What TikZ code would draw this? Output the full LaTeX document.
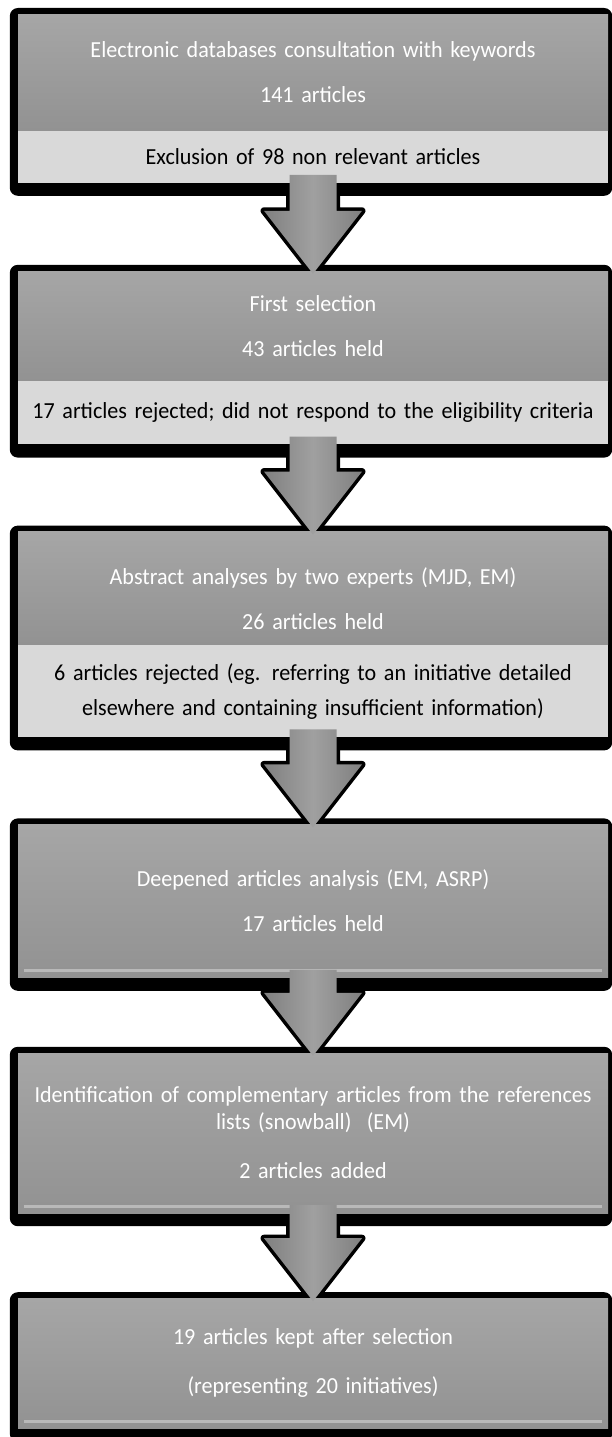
\documentclass[tikz,border=0pt]{standalone}
\usepackage{fontspec}
\setmainfont{Carlito}[FakeStretch=0.96, WordSpace=0.8]
\usetikzlibrary{positioning,calc,fit,backgrounds}

\definecolor{StageTop}{RGB}{166,166,166}
\definecolor{StageGray}{RGB}{146,146,146}
\definecolor{NoteGray}{RGB}{217,217,217}
\definecolor{ArrowLight}{RGB}{160,160,160}
\definecolor{ArrowDark}{RGB}{128,128,128}
\definecolor{BevelGray}{RGB}{185,185,185}

% block arrow: #1 style, from #2 down to #3
\newcommand{\bigarrow}[3]{%
  \path[#1] let \p1=($(#2)+(0,-8)$), \p2=($(#3)+(0,3)$) in
    (\x1-23.5pt,\y1) -- (\x1+23.5pt,\y1) -- (\x1+23.5pt,\y2+63pt)
    -- (\x1+49pt,\y2+63pt) -- (\x2,\y2) -- (\x1-49pt,\y2+63pt)
    -- (\x1-23.5pt,\y2+63pt) -- cycle;}

\begin{document}
\begin{tikzpicture}[x=1pt, y=-1pt,
    stage/.style    = {rectangle, inner sep=0pt,
                       minimum width=590pt, text width=585pt,
                       align=center, text=white,
                       top color=StageTop, bottom color=StageGray,
                       font=\fontsize{23}{27}\selectfont},
    note/.style     = {rectangle, inner sep=0pt,
                       minimum width=590pt, text width=585pt,
                       align=center, text=black, fill=NoteGray,
                       font=\fontsize{23}{27}\selectfont},
    backdrop/.style = {rectangle, fill=black, rounded corners=8pt,
                       inner xsep=6pt, inner ysep=9.5pt,
                       xshift=-2pt, yshift=-3.5pt},
    bevel/.style    = {BevelGray, line width=3pt},
    arrowedge/.style = {draw=black, fill=black, line width=7pt,
                        line join=round},
    arrowbody/.style = {left color=ArrowDark, right color=ArrowDark,
                        middle color=ArrowLight},
]
\useasboundingbox (0,0) rectangle (612,1437);

% --- Database search -----------------------------------------------------
\node[stage, minimum height=116pt, anchor=north] (s1) at (313,14)
    {Electronic databases consultation with keywords\\[18pt]141 articles};
\node[note, minimum height=52pt, below=0pt of s1] (n1)
    {Exclusion of 98 non relevant articles};

% --- First selection -----------------------------------------------------
\node[stage, minimum height=110pt, below=88pt of n1] (s2)
    {First selection\\[18pt]43 articles held};
\node[note, minimum height=63pt, below=0pt of s2] (n2)
    {17 articles rejected; did not respond to the eligibility criteria};

% --- Abstract analyses ---------------------------------------------------
\node[stage, minimum height=113pt, below=87pt of n2] (s3)
    {\rule{0pt}{38pt}Abstract analyses  by two experts (MJD, EM)\\[18pt]26 articles held};
\node[note, minimum height=92pt, below=0pt of s3] (n3)
    {6 articles rejected (eg. referring to an initiative detailed\\[8pt]
     elsewhere and containing insufficient information)};

% --- Deepened analysis ---------------------------------------------------
\node[stage, minimum height=153pt, below=87pt of n3] (s4)
    {Deepened  articles analysis (EM, ASRP)\\[18pt]17 articles held};

% --- Snowball ------------------------------------------------------------
\node[stage, minimum height=160pt, below=75pt of s4] (s5)
    {Identification of complementary articles from the references\\
     lists (snowball)~~(EM)\\[22pt]2 articles added};

% --- Result --------------------------------------------------------------
\node[stage, minimum height=130pt, below=85pt of s5] (s6)
    {19 articles kept after selection\\[22pt](representing 20 initiatives)};

% bevel edges
\foreach \b in {s4,s5,s6}
  \draw[bevel] ($(\b.south west)+(6,-7)$) -- ($(\b.south east)+(-6,-7)$);

% shadows and arrow outlines
\begin{scope}[on background layer]
  \node[backdrop, fit=(s1)(n1)] (b1) {};
  \node[backdrop, fit=(s2)(n2)] (b2) {};
  \node[backdrop, fit=(s3)(n3)] (b3) {};
  \node[backdrop, fit=(s4)] (b4) {};
  \node[backdrop, fit=(s5)] (b5) {};
  \node[backdrop, fit=(s6)] (b6) {};
  \bigarrow{arrowedge}{n1.south}{s2.north}
  \bigarrow{arrowedge}{n2.south}{s3.north}
  \bigarrow{arrowedge}{n3.south}{s4.north}
  \bigarrow{arrowedge}{s4.south}{s5.north}
  \bigarrow{arrowedge}{s5.south}{s6.north}
\end{scope}

% arrows
\bigarrow{arrowbody}{n1.south}{s2.north}
\bigarrow{arrowbody}{n2.south}{s3.north}
\bigarrow{arrowbody}{n3.south}{s4.north}
\bigarrow{arrowbody}{s4.south}{s5.north}
\bigarrow{arrowbody}{s5.south}{s6.north}

\end{tikzpicture}
\end{document}
